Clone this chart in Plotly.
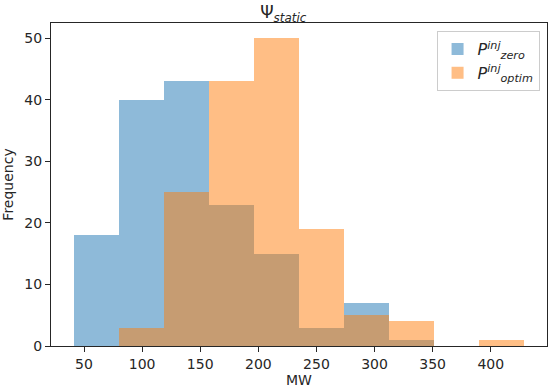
import plotly.graph_objects as go

# Histogram data (shared bin edges, MW) and counts per bin
bin_edges = [41.0, 79.8, 118.6, 157.4, 196.2, 235.0, 273.8, 312.6, 351.4, 390.2, 429.0]
counts_zero = [18, 40, 43, 23, 15, 3, 7, 1, 0, 0]
counts_optim = [0, 3, 25, 43, 50, 19, 5, 4, 0, 1]
x_ticks = [50, 100, 150, 200, 250, 300, 350, 400]
y_ticks = [0, 10, 20, 30, 40, 50]

centers = [(a + b) / 2 for a, b in zip(bin_edges[:-1], bin_edges[1:])]
widths = [b - a for a, b in zip(bin_edges[:-1], bin_edges[1:])]

font = "DejaVu Sans, Arial, sans-serif"

fig = go.Figure()
fig.add_trace(go.Bar(
    x=centers, y=counts_zero, width=widths,
    marker=dict(color="#1f77b4", line=dict(width=0)), opacity=0.5,
    name="<i>P</i><sup><i>inj</i></sup><sub><i>zero</i></sub>",
))
fig.add_trace(go.Bar(
    x=centers, y=counts_optim, width=widths,
    marker=dict(color="#ff7f0e", line=dict(width=0)), opacity=0.5,
    name="<i>P</i><sup><i>inj</i></sup><sub><i>optim</i></sub>",
))

axis_common = dict(
    showline=True, linecolor="#262626", linewidth=1.2, mirror=True,
    ticks="outside", ticklen=5, tickwidth=1.1, tickcolor="#262626",
    showgrid=False, zeroline=False, automargin=False,
    tickfont=dict(family=font, size=14, color="#262626"),
)

fig.update_layout(
    width=550, height=391,
    barmode="overlay", bargap=0,
    plot_bgcolor="white", paper_bgcolor="white",
    margin=dict(l=51, r=3, t=23, b=45, autoexpand=False),
    font=dict(family=font, size=14, color="#262626"),
    title=dict(text="Ψ<sub><i>static</i></sub>", x=0.515, xanchor="center",
               yref="container", y=0.968, yanchor="middle",
               font=dict(family=font, size=17, color="#262626")),
    xaxis=dict(range=[21.6, 448.4], tickvals=x_ticks,
               title=dict(text="MW", standoff=0, font=dict(family=font, size=14)),
               **axis_common),
    yaxis=dict(range=[0, 52.5], tickvals=y_ticks,
               title=dict(text="Frequency", standoff=8, font=dict(family=font, size=14)),
               **axis_common),
    legend=dict(x=0.985, y=0.975, xanchor="right", yanchor="top",
                bgcolor="rgba(255,255,255,0.8)", bordercolor="#cccccc", borderwidth=1,
                font=dict(family=font, size=16, color="#262626"),
                tracegroupgap=6, itemwidth=30),
)

fig.write_html("out.html", config={"displayModeBar": False},
               post_script="document.body.style.margin='0';document.body.style.overflow='hidden';")
